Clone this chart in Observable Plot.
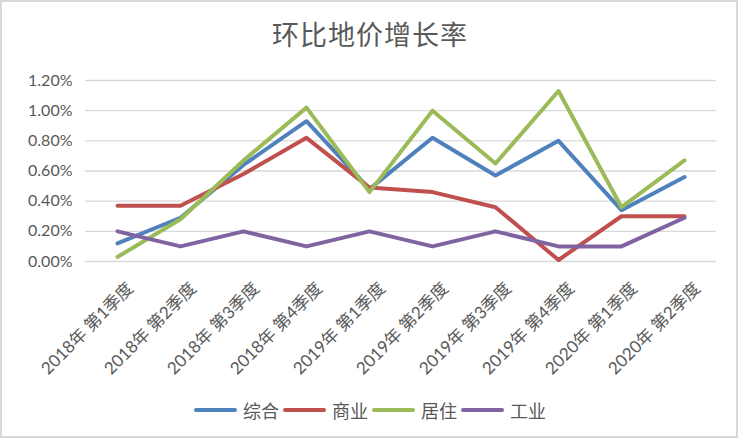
<!DOCTYPE html>
<html>
<head>
<meta charset="utf-8">
<script src="https://cdn.jsdelivr.net/npm/d3@7"></script>
<script src="https://cdn.jsdelivr.net/npm/@observablehq/plot@0.6"></script>
<style>
  html, body { margin: 0; padding: 0; background: #fff; }
  #wrap { position: relative; width: 740px; height: 440px; overflow: hidden; }
  #frame { position: absolute; left: 0; top: 0; width: 738px; height: 438px; box-sizing: border-box; border: 2px solid #d9d9d9; }
  #title { position: absolute; left: 0; top: 14px; width: 740px; text-align: center; font-family: "Noto Sans CJK SC", sans-serif; font-size: 27px; line-height: 40px; color: #595959; letter-spacing: 1px; }
  #plot { position: absolute; left: 0; top: 60px; }
  #legend { position: absolute; left: 0; top: 397px; width: 740px; display: flex; justify-content: center; align-items: center; font-family: "Noto Sans CJK SC", sans-serif; font-size: 18px; line-height: 26px; color: #595959; }
  .item { display: flex; align-items: center; margin: 0 2px; }
  .sw { display: inline-block; width: 43px; height: 4px; border-radius: 2px; margin-right: 6px; }
</style>
</head>
<body>
<div id="wrap">
  <div id="frame"></div>
  <div id="title">环比地价增长率</div>
  <div id="plot"></div>
  <div id="legend"></div>
</div>
<script>
const quarters = ["2018年 第1季度", "2018年 第2季度", "2018年 第3季度", "2018年 第4季度", "2019年 第1季度", "2019年 第2季度", "2019年 第3季度", "2019年 第4季度", "2020年 第1季度", "2020年 第2季度"];
const seriesNames = ["综合", "商业", "居住", "工业"];
const zonghe = [0.12, 0.29, 0.64, 0.93, 0.48, 0.82, 0.57, 0.80, 0.34, 0.56];
const shangye = [0.37, 0.37, 0.58, 0.82, 0.49, 0.46, 0.36, 0.01, 0.30, 0.30];
const juzhu = [0.03, 0.28, 0.67, 1.02, 0.46, 1.00, 0.65, 1.13, 0.36, 0.67];
const gongye = [0.20, 0.10, 0.20, 0.10, 0.20, 0.10, 0.20, 0.10, 0.10, 0.29];
const yTicks = [0, 0.2, 0.4, 0.6, 0.8, 1.0, 1.2];
const colors = ["#4F81BD", "#C0504D", "#9BBB59", "#8064A2"];

const seriesValues = [zonghe, shangye, juzhu, gongye];
const data = seriesNames.flatMap((s, i) => quarters.map((q, j) => ({series: s, quarter: q, value: seriesValues[i][j]})));

const chart = Plot.plot({
  width: 740,
  height: 320,
  marginTop: 20,
  marginBottom: 119,
  marginLeft: 85,
  marginRight: 24,
  style: {fontFamily: "Lato, 'Noto Sans CJK SC', sans-serif", background: "transparent", color: "#595959"},
  x: {type: "point", domain: quarters, padding: 0.5, axis: null},
  y: {domain: [0, 1.2], axis: null},
  color: {domain: seriesNames, range: colors},
  marks: [
    Plot.gridY(yTicks, {stroke: "#d9d9d9", strokeOpacity: 1, strokeWidth: 1.3}),
    Plot.axisY(yTicks, {label: null, tickSize: 0, tickPadding: 13, tickFormat: d => d.toFixed(2) + "%", fontSize: 16, fill: "#595959"}),
    Plot.text(quarters, {x: d => d, frameAnchor: "bottom", rotate: -45, textAnchor: "end", lineAnchor: "middle", dx: 13, dy: 24, fontSize: 17, fill: "#595959"}),
    Plot.line(data, {x: "quarter", y: "value", z: "series", stroke: "series", strokeWidth: 4, strokeLinejoin: "round", strokeLinecap: "round"})
  ]
});
document.getElementById("plot").appendChild(chart);

const legend = document.getElementById("legend");
seriesNames.forEach((s, i) => {
  const item = document.createElement("span");
  item.className = "item";
  const sw = document.createElement("span");
  sw.className = "sw";
  sw.style.background = colors[i];
  const t = document.createElement("span");
  t.textContent = s;
  item.appendChild(sw);
  item.appendChild(t);
  legend.appendChild(item);
});
</script>
</body>
</html>
